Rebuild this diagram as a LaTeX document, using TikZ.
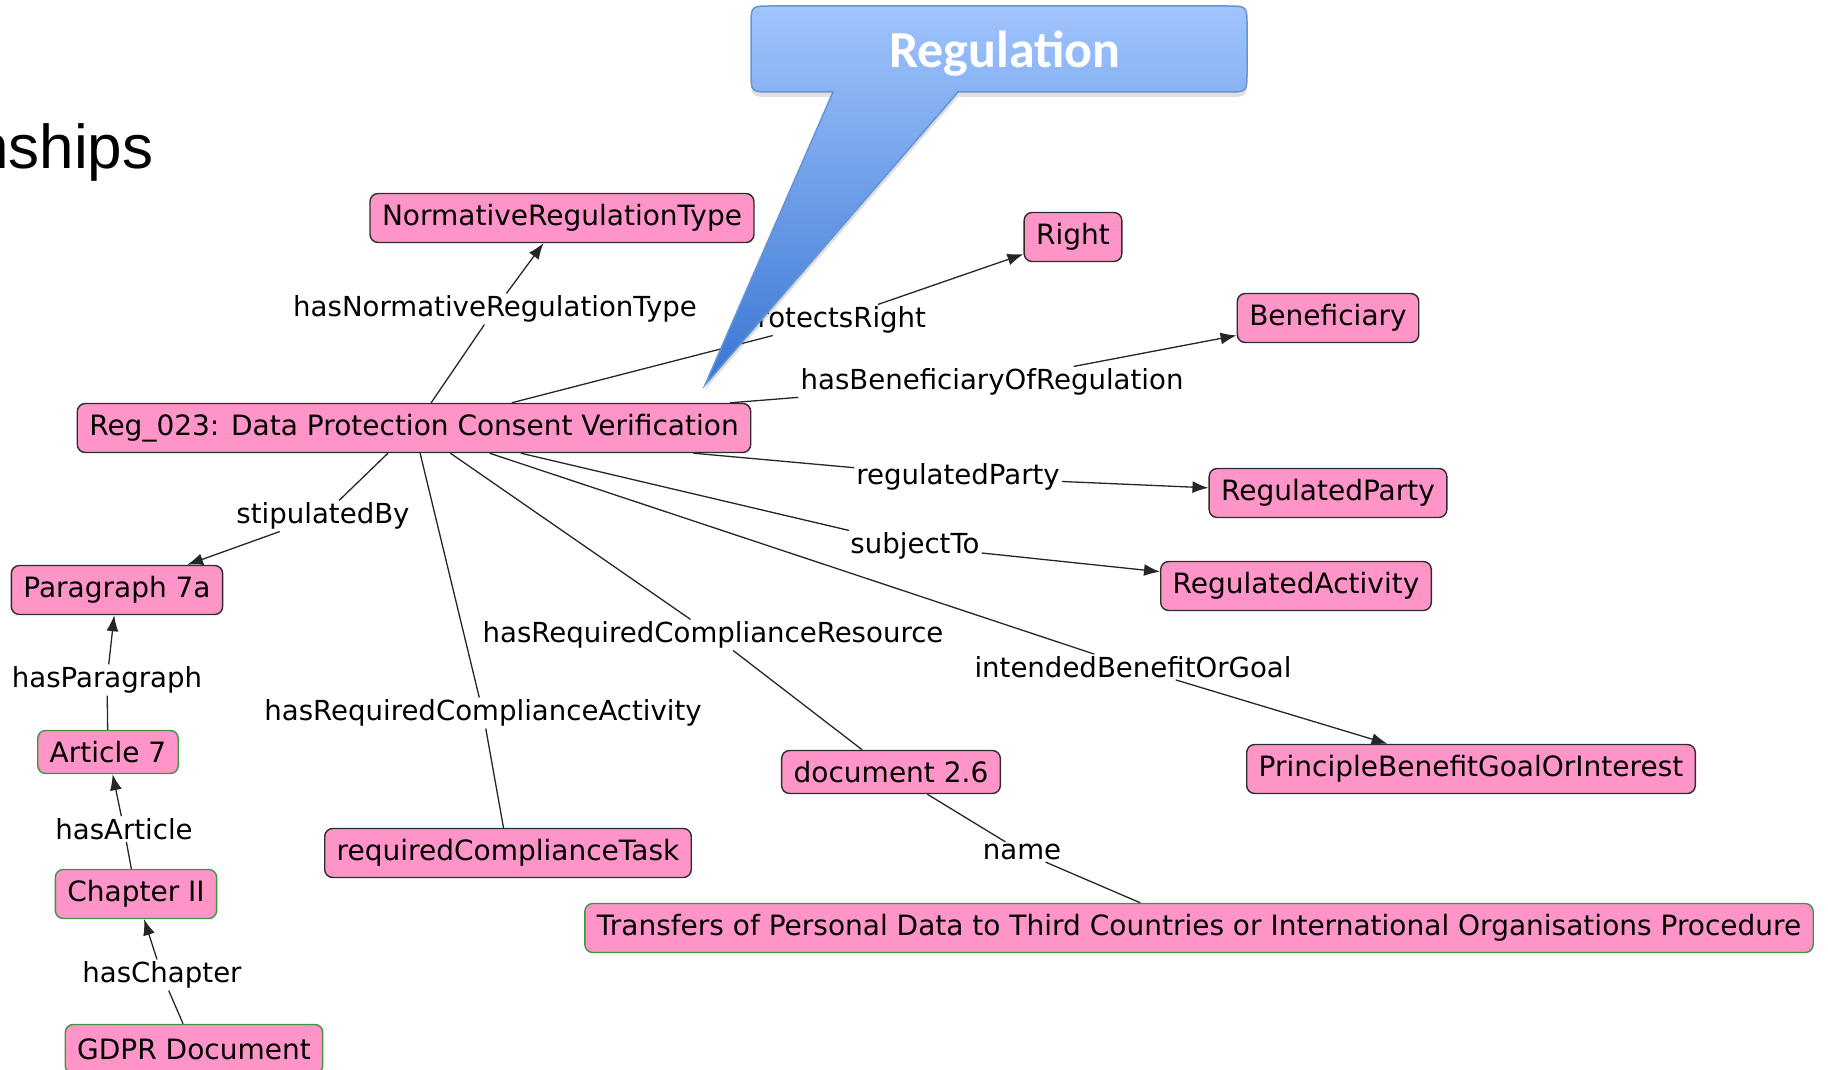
\documentclass[tikz,border=0pt]{standalone}
\usepackage{fontspec}
\setmainfont{DejaVu Sans}
\newfontfamily\calloutfont{Carlito}
\newfontfamily\titlefont{Liberation Sans}
\usepackage{tikz}
\usetikzlibrary{arrows.meta,shadows}
\definecolor{classpink}{RGB}{255,148,200}
\definecolor{rimgray}{RGB}{45,45,45}
\definecolor{rimgreen}{RGB}{60,150,60}
\definecolor{calltop}{RGB}{160,196,253}
\definecolor{callbot}{RGB}{58,118,210}
\definecolor{callrim}{RGB}{100,148,215}
\tikzset{>={Latex[length=16pt,width=12pt]}}
\tikzset{
  cls/.style={draw=rimgray, fill=classpink, rounded corners=8pt, line width=1.4pt,
    minimum height=49pt, inner xsep=12pt, font=\fontsize{28}{33}\selectfont},
  inst/.style={cls, draw=rimgreen},
  rel/.style={inner sep=2pt, font=\fontsize{27.6}{32}\selectfont},
  link/.style={line width=1.3pt, draw=black!85}
}

\begin{document}
\begin{tikzpicture}[x=1pt,y=-1pt]
            \useasboundingbox (0,0) rectangle (1828,1070);
            \node[anchor=base east, font=\titlefont\fontsize{62}{72}\selectfont] (title) at (157,168) {nships};
            % classes and individuals
            \node[cls] (nrt) at (562,218) {NormativeRegulationType};
            \node[cls] (right) at (1073,237) {Right};
            \node[cls] (benef) at (1328,318) {Beneficiary};
            \node[cls] (reg) at (414,428) {Reg\_023: Data Protection Consent Verification};
            \node[cls] (party) at (1328,493) {RegulatedParty};
            \node[cls] (activity) at (1296,586) {RegulatedActivity};
            \node[cls] (para) at (117,590) {Paragraph 7a};
            \node[inst, minimum height=43pt] (art) at (108,752) {Article 7};
            \node[cls, minimum height=43pt] (doc) at (891,772) {document 2.6};
            \node[cls] (goal) at (1471,769) {PrincipleBenefitGoalOrInterest};
            \node[cls] (task) at (508,853) {requiredComplianceTask};
            \node[inst] (chap) at (136,894) {Chapter II};
            \node[inst] (transfers) at (1199,928) {Transfers of Personal Data to Third Countries or International Organisations Procedure};
            \node[inst] (gdpr) at (194,1049) {GDPR Document};
            % relation labels
            \node[rel] (lnrt) at (495,309) {hasNormativeRegulationType};
            \node[rel] (lright) at (833,320) {protectsRight};
            \node[rel] (lbenef) at (992,382) {hasBeneficiaryOfRegulation};
            \node[rel] (lparty) at (958,477) {regulatedParty};
            \node[rel] (lsubj) at (915,546) {subjectTo};
            \node[rel] (lres) at (713,635) {hasRequiredComplianceResource};
            \node[rel] (lgoal) at (1133,667) {intendedBenefitOrGoal};
            \node[rel] (lstip) at (323,516) {stipulatedBy};
            \node[rel] (lpara) at (107,680) {hasParagraph};
            \node[rel] (lact) at (483,713) {hasRequiredComplianceActivity};
            \node[rel] (lart) at (124,829) {hasArticle};
            \node[rel] (lname) at (1022,852) {name};
            \node[rel] (lchap) at (162,975) {hasChapter};
            % connectors
            \foreach \a/\l/\b in {reg/lnrt/nrt, reg/lright/right, reg/lbenef/benef,
                reg/lparty/party, reg/lsubj/activity, reg/lgoal/goal, reg/lstip/para,
                art/lpara/para, chap/lart/art, gdpr/lchap/chap}
                \draw[link,->] (\a) -- (\l) -- (\b);
            \foreach \a/\l/\b in {reg/lact/task, reg/lres/doc, doc/lname/transfers}
                \draw[link] (\a) -- (\l) -- (\b);
            % callout
            \path[draw=callrim, line width=1.5pt, top color=calltop, bottom color=callbot,
                drop shadow={shadow xshift=0pt, shadow yshift=-5pt, opacity=.25}]
                (751,26) .. controls (751,6) .. (771,6) -- (1227,6)
                .. controls (1247,6) .. (1247,26) -- (1247,72)
                .. controls (1247,92) .. (1227,92) -- (958,92) -- (705,385) -- (833,92)
                -- (771,92) .. controls (751,92) .. (751,72) -- cycle;
            \node[anchor=base, text=white, font=\calloutfont\bfseries\fontsize{52}{60}\selectfont] (callout) at (1005,68) {Regulation};
        \end{tikzpicture}
\end{document}
